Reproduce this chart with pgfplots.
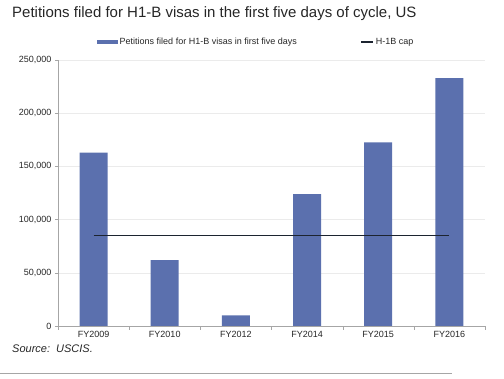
\documentclass[border=0pt]{standalone}
\usepackage{pgfplots}
\pgfplotsset{compat=1.18}
\usepackage{fontspec}
\setmainfont{Liberation Sans}
\definecolor{barblue}{HTML}{5B70AE}
\definecolor{axgray}{HTML}{A6A6A6}
\definecolor{gridgray}{HTML}{EBEBEB}
\definecolor{txt}{HTML}{262626}
\definecolor{capline}{HTML}{1C2430}
\begin{document}
\begin{tikzpicture}
\useasboundingbox (0pt,0pt) rectangle (504pt,379pt);
\node[anchor=base west,inner sep=0pt,font=\fontsize{15}{18}\selectfont,text=txt] at (12pt,361pt) {Petitions filed for H1-B visas in the first five days of cycle, US};
\begin{axis}[
  at={(58pt,53pt)}, anchor=south west,
  scale only axis, width=427pt, height=266pt,
  xmin=-0.5, xmax=5.5, ymin=0, ymax=250000,
  axis x line*=bottom, axis y line*=left,
  axis line style={axgray,-},
  xtick={0,1,2,3,4,5},
  xticklabels={FY2009,FY2010,FY2012,FY2014,FY2015,FY2016},
  major x tick style={draw=none},
  minor xtick={-0.5,0.5,1.5,2.5,3.5,4.5,5.5},
  minor x tick style={axgray},
  minor tick length=4pt,
  ytick={0,50000,100000,150000,200000,250000},
  y tick style={axgray},
  major tick length=3pt,
  tick align=outside,
  ymajorgrids, grid style={gridgray},
  scaled y ticks=false,
  yticklabel style={/pgf/number format/.cd,1000 sep={,},fixed},
  /pgf/number format/assume math mode=true,
  tick label style={font=\fontsize{9}{10}\selectfont,text=txt},
  xticklabel style={yshift=1pt},
  legend columns=2,
  legend style={draw=none, fill=none, at={(0.464,1.068)}, anchor=center,
    font=\fontsize{9}{10}\selectfont, text=txt,
    /tikz/every even column/.append style={column sep=62pt}},
]
\addplot[ybar, bar width=28pt, fill=barblue, draw=none,
  legend image code/.code={\fill[barblue] (0pt,-2.2pt) rectangle (21pt,2.2pt);}]
  coordinates {(0,163000) (1,62000) (2,10000) (3,124000) (4,172500) (5,233000)};
\addlegendentry{Petitions filed for H1-B visas in first five days}
\addplot[capline, line width=1.3pt, mark=none,
  legend image code/.code={\draw[capline,line width=1.2pt] (0pt,0pt) -- (12pt,0pt);}]
  coordinates {(0,85000) (5,85000)};
\addlegendentry{H-1B cap}
\end{axis}
\node[anchor=base west,inner sep=0pt,font=\fontsize{11}{13}\selectfont\itshape,text=txt] at (12pt,26pt) {Source:\ \ USCIS.};
\draw[axgray,line width=0.8pt] (0pt,6pt) -- (452pt,6pt);
\end{tikzpicture}
\end{document}
